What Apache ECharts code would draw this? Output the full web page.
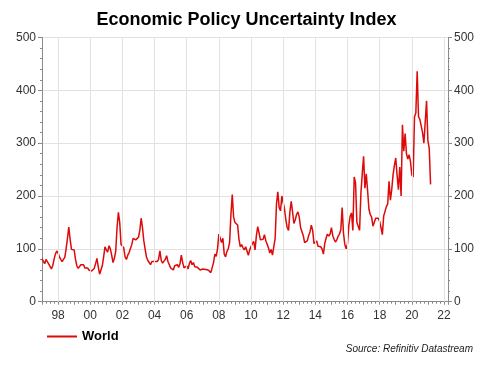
<!DOCTYPE html>
<html>
<head>
<meta charset="utf-8">
<script src="https://cdn.jsdelivr.net/npm/echarts@6/dist/echarts.min.js"></script>
<style>
html,body{margin:0;padding:0;background:#fff;}
#c{width:493px;height:367px;}
</style>
</head>
<body>
<div id="c"></div>
<script>
// Monthly Global Economic Policy Uncertainty index, starting January 1997
const startYear = 1997;
const seriesName = 'World';
const y1997 = [81, 80, 72, 80, 76, 78, 67, 62, 68, 80, 90, 96];
const y1998 = [92, 85, 80, 76, 80, 84, 100, 120, 141, 118, 99, 96];
const y1999 = [98, 80, 68, 63, 60, 70, 71, 70, 64, 66, 64, 60];
const y2000 = [62, 58, 55, 63, 72, 82, 66, 52, 60, 68, 85, 104];
const y2001 = [98, 94, 106, 100, 88, 74, 82, 95, 140, 169, 150, 108];
const y2002 = [110, 102, 85, 80, 88, 93, 96, 108, 120, 120, 117, 115];
const y2003 = [122, 135, 158, 140, 115, 99, 84, 78, 76, 70, 76, 75];
const y2004 = [76, 74, 76, 80, 96, 78, 73, 75, 80, 87, 76, 70];
const y2005 = [64, 62, 60, 68, 67, 70, 65, 72, 88, 74, 64, 62];
const y2006 = [68, 62, 72, 78, 70, 74, 66, 63, 65, 64, 60, 63];
const y2007 = [62, 65, 61, 64, 60, 57, 55, 55, 74, 90, 86, 100];
const y2008 = [128, 120, 112, 120, 90, 85, 95, 100, 112, 165, 203, 160];
const y2009 = [150, 148, 145, 118, 104, 108, 102, 98, 104, 96, 88, 98];
const y2010 = [100, 110, 114, 98, 125, 142, 130, 117, 120, 118, 127, 116];
const y2011 = [118, 102, 92, 99, 88, 90, 120, 185, 208, 178, 172, 200];
const y2012 = [200, 175, 155, 140, 135, 170, 190, 170, 148, 155, 165, 170];
const y2013 = [160, 140, 140, 125, 112, 115, 115, 125, 132, 145, 135, 110];
const y2014 = [110, 115, 105, 102, 104, 100, 90, 110, 120, 128, 124, 128];
const y2015 = [140, 125, 118, 113, 117, 124, 128, 136, 178, 130, 108, 100];
const y2016 = [110, 145, 162, 168, 135, 236, 225, 150, 148, 135, 205, 242];
const y2017 = [275, 215, 242, 210, 175, 165, 160, 143, 140, 158, 158, 158];
const y2018 = [152, 140, 127, 162, 165, 180, 185, 228, 192, 212, 240, 258];
const y2019 = [272, 240, 212, 255, 200, 335, 285, 318, 280, 270, 278, 265];
const y2020 = [240, 236, 350, 357, 436, 350, 345, 345, 320, 300, 340, 380];
const y2021 = [305, 290, 222];
const values = [].concat(y1997, y1998, y1999, y2000, y2001, y2002, y2003, y2004,
  y2005, y2006, y2007, y2008, y2009, y2010, y2011, y2012, y2013, y2014, y2015,
  y2016, y2017, y2018, y2019, y2020, y2021);
const xTickYears = [1998, 2000, 2002, 2004, 2006, 2008, 2010, 2012, 2014, 2016, 2018, 2020, 2022];
const yTicks = [0, 100, 200, 300, 400, 500];

const data = values.map((v, i) => [startYear + i / 12, v]);

const chart = echarts.init(document.getElementById('c'), null, {renderer: 'canvas'});
const axisLabelColor = '#333';
const gridColor = '#e2e2e2';
const axisColor = '#8a8a8a';
const yAxisCommon = {
  type: 'value', min: 0, max: 500, interval: 100,
  axisLine: {show: true, lineStyle: {color: axisColor, width: 1}},
  axisTick: {show: true, length: 4, lineStyle: {color: axisColor}},
  minorTick: {show: true, splitNumber: 5, length: 2, lineStyle: {color: axisColor}},
  splitLine: {show: true, lineStyle: {color: gridColor, width: 1}},
  axisLabel: {color: axisLabelColor, fontFamily: 'Liberation Sans, Arial, sans-serif', fontSize: 12, margin: 6}
};
chart.setOption({
  animation: false,
  backgroundColor: '#fff',
  title: {
    text: 'Economic Policy Uncertainty Index',
    left: 'center', top: 6,
    textStyle: {fontFamily: 'Liberation Sans, Arial, sans-serif', fontWeight: 'bold', fontSize: 18, color: '#000'}
  },
  legend: {
    data: [seriesName], left: 42, top: 325, icon: 'rect', itemWidth: 30, itemHeight: 2, itemGap: 6,
    textStyle: {fontFamily: 'Liberation Sans, Arial, sans-serif', fontWeight: 'bold', fontSize: 13, color: '#000'}
  },
  graphic: [{
    type: 'text', right: 20, top: 344,
    style: {text: 'Source: Refinitiv Datastream', fill: '#222', font: 'italic 10px Liberation Sans, Arial, sans-serif'}
  }],
  grid: {left: 42, right: 45, top: 37.5, bottom: 65.3, containLabel: false},
  xAxis: {
    type: 'value', min: 1997, max: 2022.25, interval: 1,
    axisLine: {show: true, onZero: false, lineStyle: {color: axisColor}},
    axisTick: {show: true, length: 3, lineStyle: {color: axisColor}},
    minorTick: {show: true, splitNumber: 4, length: 2, lineStyle: {color: axisColor}},
    splitLine: {show: false},
    axisLabel: {
      color: axisLabelColor, fontFamily: 'Liberation Sans, Arial, sans-serif', fontSize: 12, margin: 8,
      showMinLabel: false, showMaxLabel: false,
      formatter: function (v) {
        const r = Math.round(v);
        if (Math.abs(v - r) > 1e-6 || xTickYears.indexOf(r) < 0) return '';
        return String(r % 100).padStart(2, '0');
      }
    }
  },
  yAxis: [
    Object.assign({}, yAxisCommon, {position: 'left'}),
    Object.assign({}, yAxisCommon, {position: 'right', splitLine: {show: false}})
  ],
  series: [{
    name: seriesName, type: 'line', data: data, showSymbol: false, symbol: 'none',
    lineStyle: {color: '#dd0a0a', width: 1.5}, itemStyle: {color: '#dd0a0a'},
    markLine: {
      silent: true, symbol: 'none', label: {show: false},
      lineStyle: {color: gridColor, width: 1, type: 'solid'},
      data: xTickYears.filter(y => y < 2022.25).map(y => ({xAxis: y}))
    },
    z: 3
  }]
});
</script>
</body>
</html>
